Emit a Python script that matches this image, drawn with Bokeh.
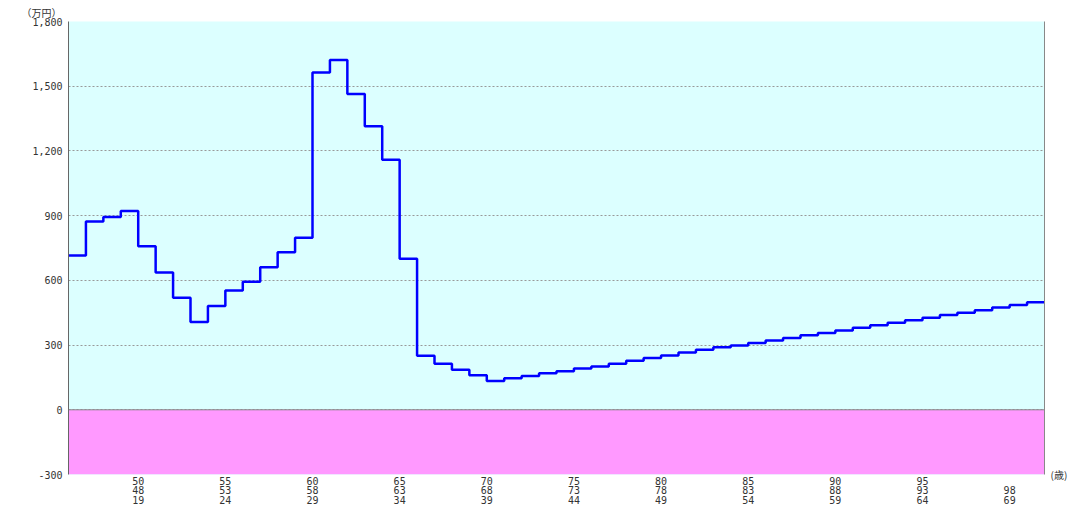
import numpy as np
from bokeh.plotting import figure
from bokeh.models import (Range1d, FixedTicker, NumeralTickFormatter, BoxAnnotation,
                          Span, LinearAxis)
from bokeh.embed import file_html
from bokeh.resources import INLINE

# ---- data ----
balance = [715, 873, 894, 922, 758, 636, 519, 407, 481, 553,
           594, 661, 730, 797, 1563, 1622, 1464, 1314, 1159, 700,
           251, 213, 186, 160, 134, 146, 157, 169, 179, 191,
           201, 213, 227, 240, 252, 265, 278, 290, 298, 310,
           321, 333, 346, 356, 368, 380, 392, 403, 415, 427,
           439, 450, 462, 474, 486, 498]
row1 = ["50", "55", "60", "65", "70", "75", "80", "85", "90", "95", ""]
row2 = ["48", "53", "58", "63", "68", "73", "78", "83", "88", "93", "98"]
row3 = ["19", "24", "29", "34", "39", "44", "49", "54", "59", "64", "69"]
y_ticks = [-300, 0, 300, 600, 900, 1200, 1500, 1800]
y_unit = "（万円）"
x_unit = "(歳)"

n = len(balance)
edges = np.arange(n + 1)
step_y = balance + [balance[-1]]
tick_x = [int(a) - 15 for a in row3]

FONT = "DejaVu Sans Mono"
JFONT = "Noto Sans CJK JP"
TXT = "#333333"

p = figure(width=1070, height=509, output_backend="svg", toolbar_location=None,
           x_range=Range1d(0, n), y_range=Range1d(y_ticks[0], y_ticks[-1]),
           min_border_left=68, min_border_right=24, min_border_top=20, min_border_bottom=30)
p.background_fill_color = "#dcffff"
p.border_fill_color = "white"
p.outline_line_color = None

p.title.text = y_unit
p.title.align = "left"
p.title.offset = -47
p.title.standoff = 4
p.title.text_font = JFONT
p.title.text_font_size = "10px"
p.title.text_font_style = "normal"
p.title.text_color = TXT

p.add_layout(BoxAnnotation(top=0, fill_color="#ff99ff", fill_alpha=1.0, line_color=None, level="underlay"))

# bottom axis with three rows of ages
p.xaxis.ticker = FixedTicker(ticks=tick_x)
p.xaxis.major_label_overrides = {x: f"{a}\n{b}\n{c}" for x, a, b, c in zip(tick_x, row1, row2, row3)}
p.xaxis.axis_line_color = None
p.xaxis.major_tick_line_color = None
p.xaxis.minor_tick_line_color = None
p.xaxis.major_tick_out = 0
p.xaxis.major_tick_in = 0
p.xaxis.minor_tick_out = 0
p.xaxis.major_label_standoff = 1
p.xaxis.major_label_text_font = FONT
p.xaxis.major_label_text_font_size = "10px"
p.xaxis.major_label_text_line_height = 0.9
p.xaxis.major_label_text_color = TXT
p.xgrid.visible = False

p.yaxis.ticker = FixedTicker(ticks=y_ticks)
p.yaxis.formatter = NumeralTickFormatter(format="0,0")
p.yaxis.major_tick_line_color = None
p.yaxis.minor_tick_line_color = None
p.yaxis.major_tick_out = 0
p.yaxis.major_tick_in = 0
p.yaxis.minor_tick_out = 0
p.yaxis.axis_line_color = "#666666"
p.yaxis.major_label_standoff = 6
p.yaxis.major_label_text_font = FONT
p.yaxis.major_label_text_font_size = "10px"
p.yaxis.major_label_text_color = TXT

# right axis: solid frame edge plus the age unit
ra = LinearAxis(ticker=FixedTicker(ticks=[y_ticks[0]]),
                major_label_overrides={y_ticks[0]: x_unit})
ra.axis_line_color = "#888888"
ra.major_tick_line_color = None
ra.minor_tick_line_color = None
ra.major_tick_out = 0
ra.major_tick_in = 0
ra.minor_tick_out = 0
ra.major_label_standoff = 6
ra.major_label_text_font = JFONT
ra.major_label_text_font_size = "10px"
ra.major_label_text_color = TXT
p.add_layout(ra, "right")

p.ygrid.ticker = FixedTicker(ticks=y_ticks)
p.ygrid.grid_line_color = "#999999"
p.ygrid.grid_line_dash = "2 2"
p.ygrid.grid_line_width = 1

p.add_layout(Span(location=0, dimension="width", line_color="#888888", line_width=1))

p.step(edges, step_y, mode="after", line_color="#0000ff", line_width=2.5)

open("out.html", "w").write(file_html(p, INLINE))
